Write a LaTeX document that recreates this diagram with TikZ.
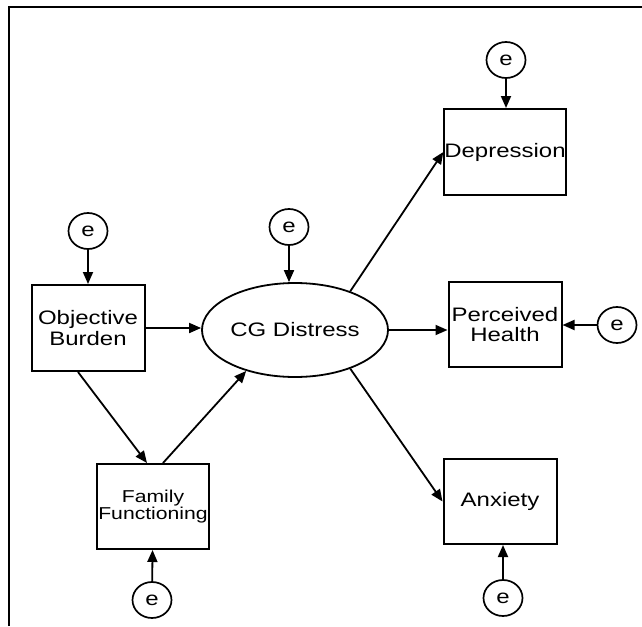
\documentclass[tikz,border=0pt]{standalone}
\usepackage{fontspec}
\setmainfont{Liberation Sans}[FakeStretch=1.23]
\usetikzlibrary{arrows.meta,shapes.geometric}
\tikzset{
  obs/.style={draw, line width=2pt, rectangle, minimum width=113pt, minimum height=86pt, inner sep=0pt, align=center, font=\fontsize{19.5}{20.5}\selectfont},
  latent/.style={draw, line width=1.8pt, ellipse, minimum width=186pt, minimum height=94pt, inner sep=0pt, font=\fontsize{19.5}{20.5}\selectfont},
  err/.style={draw, line width=1.7pt, ellipse, minimum width=39pt, minimum height=36pt, inner sep=0pt, font=\fontsize{19.5}{20.5}\selectfont},
  path/.style={line width=1.8pt, -{Triangle[length=12pt,width=10pt]}},
  frame/.style={line width=2pt}
}
\begin{document}
\begin{tikzpicture}[x=1pt,y=-1pt]
\useasboundingbox (0,0) rectangle (642,626);
\coordinate (fa) at (9,626);
\coordinate (fb) at (9,7);
\coordinate (fc) at (642,7);
\draw[frame] (fa) -- (fb) -- (fc);

\node[obs] (OB) at (88,328) {Objective\\Burden};
\node[err] (eOB) at (88,231) {e};
\node[latent] (CG) at (295,330) {CG Distress};
\node[err] (eCG) at (289,227) {e};
\node[obs, minimum width=112pt, minimum height=85pt, font=\fontsize{17.2}{17.5}\selectfont] (FF) at (153,506.5) {Family\\Functioning};
\node[err] (eFF) at (152,600) {e};
\node[obs] (Dep) at (505,152) {Depression};
\node[err] (eDep) at (506,60) {e};
\node[obs, minimum height=85pt] (PH) at (505,324.5) {Perceived\\Health};
\node[err] (ePH) at (617,325) {e};
\node[obs, minimum height=85pt] (Anx) at (500,501.5) {Anxiety};
\node[err] (eAnx) at (503,598) {e};

\draw[path] (eOB) -- (OB);
\draw[path] (eCG.south) -- (eCG.south |- CG.north);
\draw[path] (OB.east) -- (OB.east -| CG.west);
\draw[path] ([xshift=-10pt]OB.south) -- ([xshift=-6pt]FF.north);
\draw[path] ([xshift=10pt]FF.north) -- (CG.220);
\draw[path] (eFF) -- (FF);
\draw[path] (CG.35) -- (Dep.west);
\draw[path] (CG.east) -- (CG.east -| PH.west);
\draw[path] (CG.-35) -- (Anx.west);
\draw[path] (eDep) -- (eDep |- Dep.north);
\draw[path] (ePH) -- (ePH -| PH.east);
\draw[path] (eAnx) -- (eAnx |- Anx.south);
\end{tikzpicture}
\end{document}
